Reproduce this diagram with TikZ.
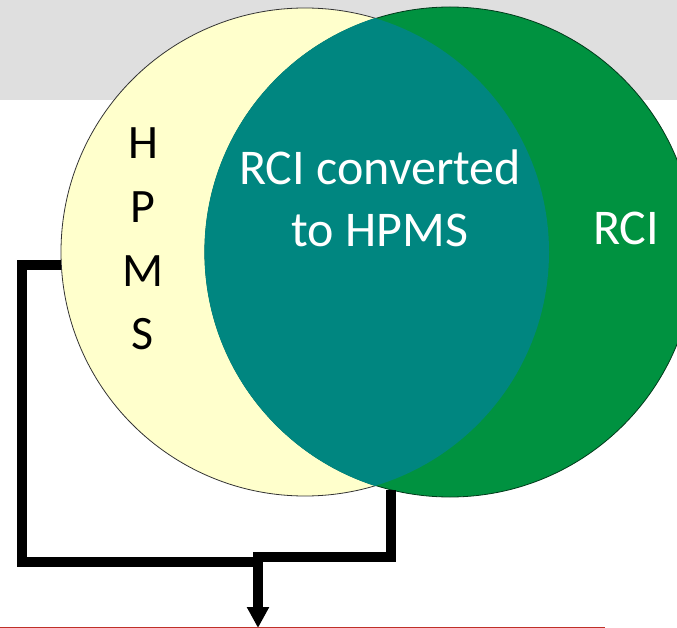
\documentclass[tikz,border=0pt]{standalone}
\usepackage{fontspec}
\setmainfont{Carlito}
\usetikzlibrary{arrows.meta}
\definecolor{bandgray}{RGB}{223,223,223}
\definecolor{paleyellow}{RGB}{255,255,204}
\definecolor{rcigreen}{RGB}{0,146,64}
\definecolor{overlapteal}{RGB}{0,134,128}
\definecolor{basered}{RGB}{192,48,40}
\tikzset{
  conn/.style={line width=10pt, black, line join=miter},
  lbl/.style={inner sep=0pt, font=\fontsize{50}{62}\selectfont, align=center},
}
\begin{document}
\begin{tikzpicture}[x=1pt,y=-1pt]
\useasboundingbox (0,0) rectangle (677,628);
\clip (0,0) rectangle (677,628);
\fill[bandgray] (0,0) rectangle (677,100);
% circles
\node[circle, minimum size=488pt, inner sep=0pt, fill=paleyellow, draw=black!80, line width=0.8pt] (hpms) at (305,252) {};
\node[circle, minimum size=490pt, inner sep=0pt, fill=rcigreen, draw=black!60!rcigreen, line width=0.8pt] (rci) at (450,252) {};
\begin{scope}
  \clip (305,252) circle[radius=244];
  \fill[overlapteal, draw=overlapteal, line width=1.2pt] (450,252) circle[radius=245];
\end{scope}
% labels
\node[lbl, text=black, font=\fontsize{48}{63.7}\selectfont] (hpmslbl) at (143,239) {H\\P\\M\\S};
\node[lbl, text=white] (overlaplbl) at (380,198) {RCI converted\\to HPMS};
\node[lbl, text=white] (rcilbl) at (626,228) {RCI};
% connectors
\coordinate (joinpt) at (258,553);
\coordinate (target) at (258,628);
\draw[conn] (hpms.183) -| (22,562) -- (263,562);
\draw[conn] (rci.256) |- (253,557);
\draw[conn, -{Triangle[length=21pt, width=21pt]}] (joinpt) -- (target);
% base line
\coordinate (baseL) at (0,627.5);
\coordinate (baseR) at (605,627.5);
\draw[basered, line width=1pt] (baseL) -- (baseR);
\end{tikzpicture}
\end{document}
